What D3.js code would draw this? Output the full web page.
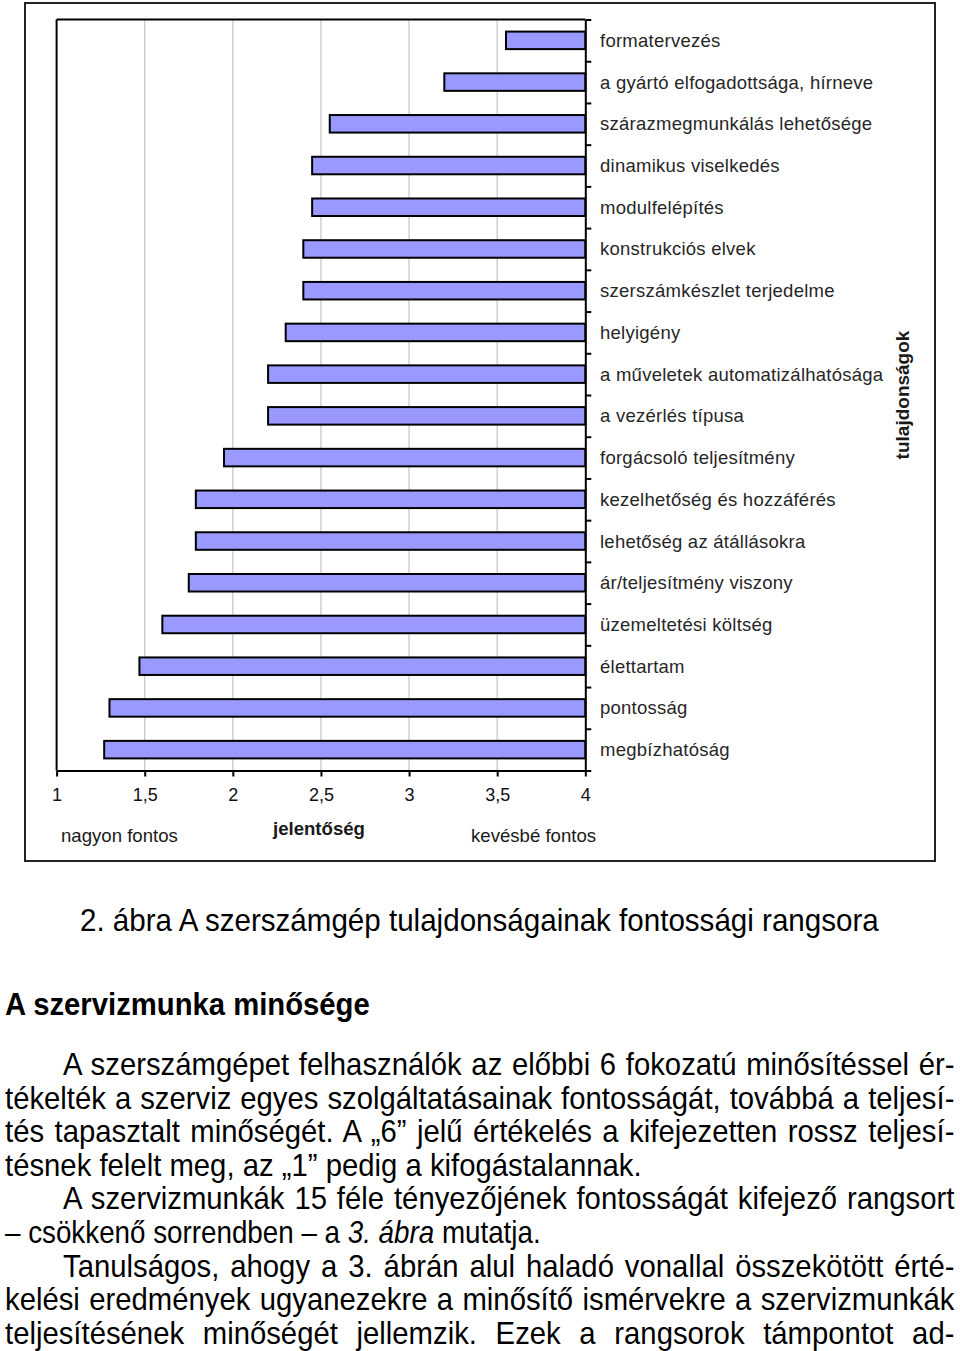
<!DOCTYPE html>
<html><head><meta charset="utf-8">
<script src="https://cdn.jsdelivr.net/npm/d3@7"></script>
<style>
html,body{margin:0;padding:0;background:#fff;}
svg{display:block;}
</style></head>
<body>
<svg id="c" width="960" height="1351"></svg>
<script>
const categories = [
  "formatervezés",
  "a gyártó elfogadottsága, hírneve",
  "szárazmegmunkálás lehetősége",
  "dinamikus viselkedés",
  "modulfelépítés",
  "konstrukciós elvek",
  "szerszámkészlet terjedelme",
  "helyigény",
  "a műveletek automatizálhatósága",
  "a vezérlés típusa",
  "forgácsoló teljesítmény",
  "kezelhetőség és hozzáférés",
  "lehetőség az átállásokra",
  "ár/teljesítmény viszony",
  "üzemeltetési költség",
  "élettartam",
  "pontosság",
  "megbízhatóság"
];
const values = [3.55, 3.2, 2.55, 2.45, 2.45, 2.4, 2.4, 2.3, 2.2, 2.2, 1.95, 1.79, 1.79, 1.75, 1.6, 1.47, 1.3, 1.27];
const tickValues = [1, 1.5, 2, 2.5, 3, 3.5, 4];
const tickLabels = ["1", "1,5", "2", "2,5", "3", "3,5", "4"];
const gridValues = [1.5, 2, 2.5, 3, 3.5];

const caption = "2. ábra A szerszámgép tulajdonságainak fontossági rangsora";
const heading = "A szervizmunka minősége";
const paragraphLines = [
  {parts:[["A szerszámgépet felhasználók az előbbi 6 fokozatú minősítéssel ér-", false]], x0:63, x1:955, justify:true},
  {parts:[["tékelték a szerviz egyes szolgáltatásainak fontosságát, továbbá a teljesí-", false]], x0:5, x1:955, justify:true},
  {parts:[["tés tapasztalt minőségét. A „6” jelű értékelés a kifejezetten rossz teljesí-", false]], x0:5, x1:955, justify:true},
  {parts:[["tésnek felelt meg, az „1” pedig a kifogástalannak.", false]], x0:5, x1:642, justify:false},
  {parts:[["A szervizmunkák 15 féle tényezőjének fontosságát kifejező rangsort", false]], x0:63, x1:955, justify:true},
  {parts:[["– csökkenő sorrendben – a ", false], ["3. ábra", true], [" mutatja.", false]], x0:5, x1:541, justify:false},
  {parts:[["Tanulságos, ahogy a 3. ábrán alul haladó vonallal összekötött érté-", false]], x0:63, x1:955, justify:true},
  {parts:[["kelési eredmények ugyanezekre a minősítő ismérvekre a szervizmunkák", false]], x0:5, x1:955, justify:true},
  {parts:[["teljesítésének minőségét jellemzik. Ezek a rangsorok támpontot ad-", false]], x0:5, x1:955, justify:true}
];

const svg = d3.select("#c");
const FONT = "'Liberation Sans', Arial, sans-serif";
const NARROW = "'Liberation Sans Narrow', 'Arial Narrow', 'Liberation Sans', Arial, sans-serif";

// outer frame
svg.append("rect").attr("x", 25).attr("y", 3).attr("width", 910).attr("height", 858)
  .attr("fill", "none").attr("stroke", "#222").attr("stroke-width", 2);

const pLeft = 56.6, pRight = 585.3, pTop = 19.5, pBottom = 770.5;
const x = d3.scaleLinear().domain([1, 4]).range([pLeft, pRight]);
const y = d3.scaleBand().domain(categories).range([pTop, pBottom]).paddingInner(0.58).paddingOuter(0.29);
const yIdx = d3.scaleLinear().domain([0, categories.length]).range([pTop, pBottom]);

// gridlines
svg.append("g").selectAll("line").data(gridValues).join("line")
  .attr("x1", d => x(d)).attr("x2", d => x(d))
  .attr("y1", pTop).attr("y2", pBottom)
  .attr("stroke", "#c4c4c4").attr("stroke-width", 1.2);

// plot border (top and left)
svg.append("line").attr("x1", pLeft).attr("x2", pRight).attr("y1", pTop).attr("y2", pTop)
  .attr("stroke", "#000").attr("stroke-width", 2);
svg.append("line").attr("x1", pLeft).attr("x2", pLeft).attr("y1", pTop).attr("y2", pBottom)
  .attr("stroke", "#000").attr("stroke-width", 2);

// bars
svg.append("g").selectAll("rect").data(categories).join("rect")
  .attr("x", (d, i) => x(values[i]))
  .attr("width", (d, i) => x(4) - x(values[i]))
  .attr("y", d => y(d))
  .attr("height", y.bandwidth())
  .attr("fill", "#9999ff").attr("stroke", "#000").attr("stroke-width", 2);

// right axis (category axis, ticks at band boundaries)
const ra = svg.append("g").attr("transform", `translate(${pRight},0)`)
  .call(d3.axisRight(yIdx).tickValues(d3.range(0, categories.length + 1)).tickFormat("").tickSize(6).tickSizeOuter(0));
ra.selectAll("path,line").attr("stroke", "#000").attr("stroke-width", 2);

// category labels
svg.append("g").selectAll("text").data(categories).join("text")
  .attr("x", 600).attr("y", d => y(d) + y.bandwidth() / 2)
  .attr("dy", "0.35em")
  .attr("font-family", FONT).attr("font-size", 18.5).attr("letter-spacing", 0.25).attr("fill", "#262626")
  .text(d => d);

// bottom axis
const ba = svg.append("g").attr("transform", `translate(0,${pBottom})`)
  .call(d3.axisBottom(x).tickValues(tickValues).tickFormat((d, i) => tickLabels[i]).tickSize(6).tickSizeOuter(0).tickPadding(12));
ba.selectAll("path,line").attr("stroke", "#000").attr("stroke-width", 2);
ba.selectAll("text").attr("font-family", FONT).attr("font-size", 18).attr("fill", "#111");

// axis captions
svg.append("text").attr("x", 61).attr("y", 842).attr("font-family", FONT).attr("font-size", 18.6).attr("fill", "#1a1a1a").text("nagyon fontos");
svg.append("text").attr("x", 273).attr("y", 835).attr("font-family", FONT).attr("font-weight", "bold").attr("font-size", 18.6).attr("fill", "#1a1a1a").text("jelentőség");
svg.append("text").attr("x", 471).attr("y", 842).attr("font-family", FONT).attr("font-size", 18.6).attr("fill", "#1a1a1a").text("kevésbé fontos");

// rotated axis title
svg.append("text").attr("transform", "translate(909,395) rotate(-90)")
  .attr("text-anchor", "middle")
  .attr("font-family", FONT).attr("font-weight", "bold").attr("font-size", 19).attr("fill", "#1a1a1a")
  .text("tulajdonságok");

// helpers for text lines
function makeLine(parts, weight) {
  const g = svg.append("g");
  const t = g.append("text").attr("x", 0).attr("y", 0)
    .attr("font-family", NARROW).attr("font-size", 30.5).attr("font-weight", weight || "normal").attr("fill", "#000");
  parts.forEach(p => {
    t.append("tspan").attr("font-style", p[1] ? "italic" : "normal").text(p[0]);
  });
  return {g, t, w: t.node().getComputedTextLength()};
}
function fitLine(parts, x0, x1, yb, weight) {
  const L = makeLine(parts, weight);
  const sx = (x1 - x0) / L.w;
  L.g.attr("transform", `translate(${x0},${yb}) scale(${sx},1)`);
}

fitLine([[caption, false]], 80, 879, 931);
fitLine([[heading, false]], 5, 370, 1015, "bold");

// paragraph: common glyph condensation, justification by word spacing
const baseY = 1075, lh = 33.6;
const lines = paragraphLines.map(ln => Object.assign({}, ln, makeLine(ln.parts)));
const ref = lines[3];
const sx0 = (ref.x1 - ref.x0) / ref.w;
lines.forEach((ln, i) => {
  const target = ln.x1 - ln.x0;
  let sx = sx0;
  if (ln.justify) {
    const nat = ln.w * sx0;
    const nSpaces = ln.parts.map(p => p[0]).join("").split(" ").length - 1;
    if (nat <= target && nSpaces > 0) {
      ln.t.attr("word-spacing", (target - nat) / sx0 / nSpaces);
    } else {
      sx = target / ln.w;
    }
  } else if (ln.w * sx0 > target + 1 || Math.abs(ln.w * sx0 - target) > 6) {
    sx = target / ln.w;
  }
  ln.g.attr("transform", `translate(${ln.x0},${baseY + i * lh}) scale(${sx},1)`);
});
</script>
</body></html>
